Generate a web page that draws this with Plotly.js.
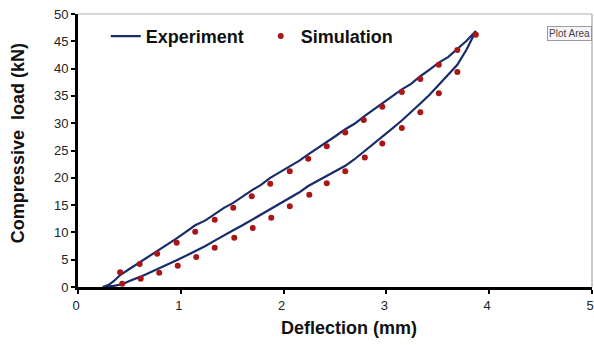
<!DOCTYPE html>
<html>
<head>
<meta charset="utf-8">
<script src="https://cdn.plot.ly/plotly-3.0.1.min.js"></script>
<style>
  html, body { margin: 0; padding: 0; background: #ffffff; }
  #chart { width: 594px; height: 345px; }
</style>
</head>
<body>
<div id="chart"></div>
<script>
// Measured loop: loading branch (upper) followed by unloading branch (lower)
const expLoadX = [0.24, 0.30, 0.35, 0.41, 0.50, 0.60, 0.70, 0.77, 0.87, 0.96, 1.05, 1.14, 1.24, 1.33, 1.42, 1.51, 1.60, 1.69, 1.78, 1.87, 1.96, 2.06, 2.15, 2.24, 2.33, 2.42, 2.51, 2.60, 2.69, 2.78, 2.87, 2.96, 3.05, 3.15, 3.24, 3.33, 3.42, 3.51, 3.60, 3.69, 3.78, 3.87];
const expLoadY = [0.0, 0.4, 1.1, 2.2, 3.3, 4.5, 5.7, 6.6, 7.8, 8.9, 10.1, 11.3, 12.2, 13.4, 14.5, 15.4, 16.6, 17.7, 18.7, 20.0, 21.0, 22.1, 23.1, 24.3, 25.4, 26.5, 27.7, 28.9, 29.9, 31.2, 32.4, 33.6, 34.9, 36.2, 37.2, 38.6, 39.8, 41.1, 42.1, 43.6, 45.1, 46.9];
const expUnloadX = [3.87, 3.78, 3.69, 3.60, 3.51, 3.42, 3.33, 3.24, 3.15, 3.05, 2.96, 2.87, 2.79, 2.69, 2.60, 2.51, 2.42, 2.33, 2.24, 2.15, 2.06, 1.97, 1.88, 1.79, 1.70, 1.60, 1.51, 1.42, 1.33, 1.24, 1.15, 1.06, 0.97, 0.88, 0.79, 0.70, 0.61, 0.50, 0.43, 0.35, 0.24];
const expUnloadY = [46.9, 43.5, 40.7, 38.8, 37.0, 35.2, 33.6, 32.0, 30.5, 28.9, 27.5, 26.1, 24.8, 23.4, 22.2, 21.3, 20.4, 19.5, 18.5, 17.3, 16.3, 15.4, 14.4, 13.4, 12.4, 11.3, 10.4, 9.5, 8.5, 7.5, 6.6, 5.8, 5.0, 4.2, 3.4, 2.6, 1.9, 1.1, 0.5, 0.2, 0.0];

// Finite-element predictions along both branches
const simX = [0.41, 0.60, 0.77, 0.96, 1.14, 1.33, 1.51, 1.69, 1.87, 2.06, 2.24, 2.42, 2.60, 2.78, 2.96, 3.15, 3.33, 3.51, 3.69, 3.87,
              3.69, 3.51, 3.33, 3.15, 2.96, 2.79, 2.60, 2.42, 2.25, 2.06, 1.88, 1.70, 1.52, 1.33, 1.15, 0.97, 0.79, 0.61, 0.43];
const simY = [2.7, 4.2, 6.1, 8.1, 10.1, 12.3, 14.5, 16.6, 18.9, 21.2, 23.5, 25.8, 28.3, 30.6, 33.0, 35.7, 38.1, 40.7, 43.4, 46.2,
              39.4, 35.5, 32.0, 29.1, 26.3, 23.7, 21.2, 19.0, 16.9, 14.8, 12.7, 10.8, 9.0, 7.2, 5.5, 3.9, 2.6, 1.5, 0.6];

const xTickVals = [0, 1, 2, 3, 4, 5];
const yTickVals = [0, 5, 10, 15, 20, 25, 30, 35, 40, 45, 50];

const FONT = 'Liberation Sans, Arial, sans-serif';

const traces = [
  {
    name: 'Experiment',
    x: expLoadX.concat(expUnloadX.slice(1)),
    y: expLoadY.concat(expUnloadY.slice(1)),
    type: 'scatter',
    mode: 'lines',
    line: { color: '#182C6C', width: 2.2 },
    hoverinfo: 'skip'
  },
  {
    name: 'Simulation',
    x: simX,
    y: simY,
    type: 'scatter',
    mode: 'markers',
    marker: { color: '#AA1515', size: 6 },
    hoverinfo: 'skip'
  }
];

const axisCommon = {
  showgrid: false,
  zeroline: false,
  showline: true,
  linecolor: '#000000',
  linewidth: 3,
  ticks: 'outside',
  ticklen: 4,
  tickwidth: 2,
  tickcolor: '#000000',
  ticklabeloverflow: 'allow',
  tickfont: { family: FONT, size: 13, color: '#222222' },
  fixedrange: true
};

const layout = {
  width: 594,
  height: 345,
  margin: { l: 78, r: 2, t: 14, b: 58 },
  paper_bgcolor: '#ffffff',
  plot_bgcolor: '#ffffff',
  showlegend: true,
  legend: {
    orientation: 'h',
    x: 0.054,
    y: 0.918,
    xanchor: 'left',
    yanchor: 'middle',
    bgcolor: 'rgba(0,0,0,0)',
    borderwidth: 0,
    entrywidth: 110,
    entrywidthmode: 'pixels',
    font: { family: FONT, size: 18, weight: 'bold', color: '#111111' }
  },
  xaxis: Object.assign({}, axisCommon, {
    range: [0, 5],
    tickvals: xTickVals,
    ticktext: xTickVals.map(String),
    ticklabelshift: -2
  }),
  yaxis: Object.assign({}, axisCommon, {
    range: [0, 50],
    tickvals: yTickVals,
    ticktext: yTickVals.map(String)
  }),
  shapes: [
    // light frame on the top and right of the plot area
    { type: 'line', xref: 'paper', yref: 'paper', x0: 0, x1: 1, y0: 1, y1: 1,
      line: { color: '#c8c8c8', width: 1.5 } },
    { type: 'line', xref: 'paper', yref: 'paper', x0: 1, x1: 1, y0: 0, y1: 1,
      line: { color: '#b8b8b8', width: 1.5 } }
  ],
  annotations: [
    {
      text: 'Deflection (mm)',
      xref: 'paper', yref: 'paper', x: 0.527, y: -0.150,
      xanchor: 'center', yanchor: 'middle', showarrow: false,
      font: { family: FONT, size: 18, weight: 'bold', color: '#111111' }
    },
    {
      text: 'Compressive  load (kN)',
      xref: 'paper', yref: 'paper', x: -0.1167, y: 0.527,
      xanchor: 'center', yanchor: 'middle', showarrow: false, textangle: -90,
      font: { family: FONT, size: 18, weight: 'bold', color: '#111111' }
    },
    {
      text: 'Plot Area',
      xref: 'paper', yref: 'paper', x: 0.912, y: 0.930,
      xanchor: 'left', yanchor: 'middle', showarrow: false,
      bgcolor: '#f6f6fa', bordercolor: '#9a9a9a', borderwidth: 1, borderpad: 1,
      font: { family: FONT, size: 10, color: '#444444' }
    }
  ]
};

Plotly.newPlot('chart', traces, layout, { staticPlot: true, displayModeBar: false });
</script>
</body>
</html>
